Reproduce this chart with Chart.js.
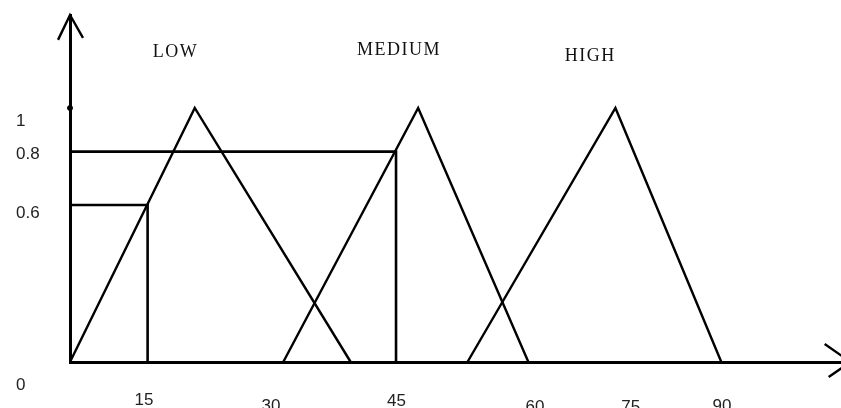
<!DOCTYPE html>
<html>
<head>
<meta charset="utf-8">
<script src="https://cdn.jsdelivr.net/npm/chart.js@4/dist/chart.umd.min.js"></script>
<style>
  html, body { margin: 0; padding: 0; background: #fff; }
  #wrap { width: 841px; height: 408px; }
</style>
</head>
<body>
<div id="wrap"><canvas id="fuzzyChart"></canvas></div>
<script>
// membership sets (x in axis units, y = membership)
const setNames = ["LOW", "MEDIUM", "HIGH"];
const lowX = [0, 17.2, 38.7];
const lowY = [0, 1, 0];
const mediumX = [29.4, 48.0, 63.2];
const mediumY = [0, 1, 0];
const highX = [54.8, 75.2, 89.8];
const highY = [0, 1, 0];

// the two cut lines
const cutLowX = [0, 10.7, 10.7];
const cutLowY = [0.618, 0.618, 0];
const cutMedX = [0, 44.95, 44.95];
const cutMedY = [0.828, 0.828, 0];

// arrow heads on the axes
const yArrowX = [-1.65, 0, 1.79];
const yArrowY = [1.268, 1.366, 1.276];
const xArrowX = [104.05, 107.6, 104.6];
const xArrowY = [0.071, 0, -0.059];

// tick labels (hand placed in the original)
const xTickAt = [10.2, 27.7, 45.0, 64.1, 77.3, 89.9];
const xTickLabels = ["15", "30", "45", "60", "75", "90"];
const yTickAt = [0, 0.6, 0.8, 1];
const yTickLabels = ["0", "0.6", "0.8", "1"];

// how far each label sits from its tick (px), the drawing is uneven
const xLabelDrop = [38.5, 44.5, 39.5, 45.5, 45.5, 44.5];
const yLabelDrop = [23, 4, -4, 13];
// set name offset from each peak (px)
const nameOffset = [[-20, -56], [-20, -57.5], [-26, -51.5]];

const INK = "#000";
const TICK_FAMILY = '"Liberation Sans Narrow", "Liberation Sans", sans-serif';

const toPoints = (xs, ys) => xs.map((x, i) => ({ x: x, y: ys[i] }));

const lineSet = (xs, ys, width) => ({
  data: toPoints(xs, ys),
  showLine: true,
  borderColor: INK,
  borderWidth: width,
  pointRadius: 0,
  pointHoverRadius: 0,
  tension: 0,
  fill: false,
  clip: false,
});

const setData = [
  toPoints(lowX, lowY),
  toPoints(mediumX, mediumY),
  toPoints(highX, highY),
];

// writes LOW / MEDIUM / HIGH above the peaks
const setNamePlugin = {
  id: "setNames",
  afterDatasetsDraw(chart) {
    const { ctx, scales } = chart;
    const spacing = 1.5;
    ctx.save();
    ctx.fillStyle = "#111";
    ctx.font = '18px "Liberation Serif", "DejaVu Serif", serif';
    ctx.letterSpacing = spacing + "px";
    ctx.textAlign = "left";
    ctx.textBaseline = "middle";
    setNames.forEach((name, i) => {
      const peak = setData[i].reduce((a, b) => (b.y > a.y ? b : a));
      const cx = scales.x.getPixelForValue(peak.x) + nameOffset[i][0];
      const cy = scales.y.getPixelForValue(peak.y) + nameOffset[i][1];
      const w = ctx.measureText(name).width - spacing;
      ctx.fillText(name, cx - w / 2, cy);
    });
    ctx.restore();
  },
};

// multi-line trick: an empty line pushes the label down (or up)
const shiftLabel = (text, drop) => {
  if (drop > 0) return ["", text];
  if (drop < 0) return [text, ""];
  return text;
};

const ctx = document.getElementById("fuzzyChart").getContext("2d");

new Chart(ctx, {
  type: "scatter",
  data: {
    datasets: [
      lineSet(lowX, lowY, 2.4),
      lineSet(mediumX, mediumY, 2.4),
      lineSet(highX, highY, 2.4),
      lineSet(cutLowX, cutLowY, 2.6),
      lineSet(cutMedX, cutMedY, 2.6),
      lineSet(yArrowX, yArrowY, 2.4),
      lineSet(xArrowX, xArrowY, 2.4),
      {
        data: [{ x: 0, y: 1 }],
        showLine: false,
        pointRadius: 2.5,
        pointHoverRadius: 0,
        backgroundColor: INK,
        borderColor: INK,
        clip: false,
      },
    ],
  },
  options: {
    responsive: true,
    maintainAspectRatio: false,
    animation: false,
    events: [],
    layout: {
      autoPadding: false,
      padding: { top: 15, left: 16, right: 0, bottom: 0 },
    },
    plugins: {
      legend: { display: false },
      tooltip: { enabled: false },
    },
    scales: {
      x: {
        type: "linear",
        min: 0,
        max: 106.3,
        grid: { display: false, drawTicks: false },
        border: { display: true, color: INK, width: 3 },
        afterBuildTicks: (scale) => {
          scale.ticks = xTickAt.map((v) => ({ value: v }));
        },
        afterFit: (scale) => {
          scale.height = 46;
          scale.paddingLeft = 0;
          scale.paddingRight = 0;
        },
        ticks: {
          autoSkip: false,
          maxRotation: 0,
          minRotation: 0,
          padding: 0,
          color: "#222",
          callback: (value, index) => xTickLabels[index],
          font: (c) => ({
            family: TICK_FAMILY,
            size: 17,
            lineHeight: c.index !== undefined ? xLabelDrop[c.index] * 2 + "px" : 1.2,
          }),
        },
      },
      y: {
        type: "linear",
        min: 0,
        max: 1.366,
        grid: { display: false, drawTicks: false },
        border: { display: true, color: INK, width: 3 },
        afterBuildTicks: (scale) => {
          scale.ticks = yTickAt.map((v) => ({ value: v }));
        },
        afterFit: (scale) => {
          scale.width = 54;
          scale.paddingTop = 0;
          scale.paddingBottom = 0;
        },
        ticks: {
          autoSkip: false,
          crossAlign: "far",
          padding: 0,
          color: "#222",
          callback: (value, index) => shiftLabel(yTickLabels[index], yLabelDrop[index]),
          font: (c) => ({
            family: TICK_FAMILY,
            size: 17,
            lineHeight:
              c.index !== undefined && yLabelDrop[c.index] !== 0
                ? Math.abs(yLabelDrop[c.index]) * 2 + "px"
                : 1.2,
          }),
        },
      },
    },
  },
  plugins: [setNamePlugin],
});
</script>
</body>
</html>
